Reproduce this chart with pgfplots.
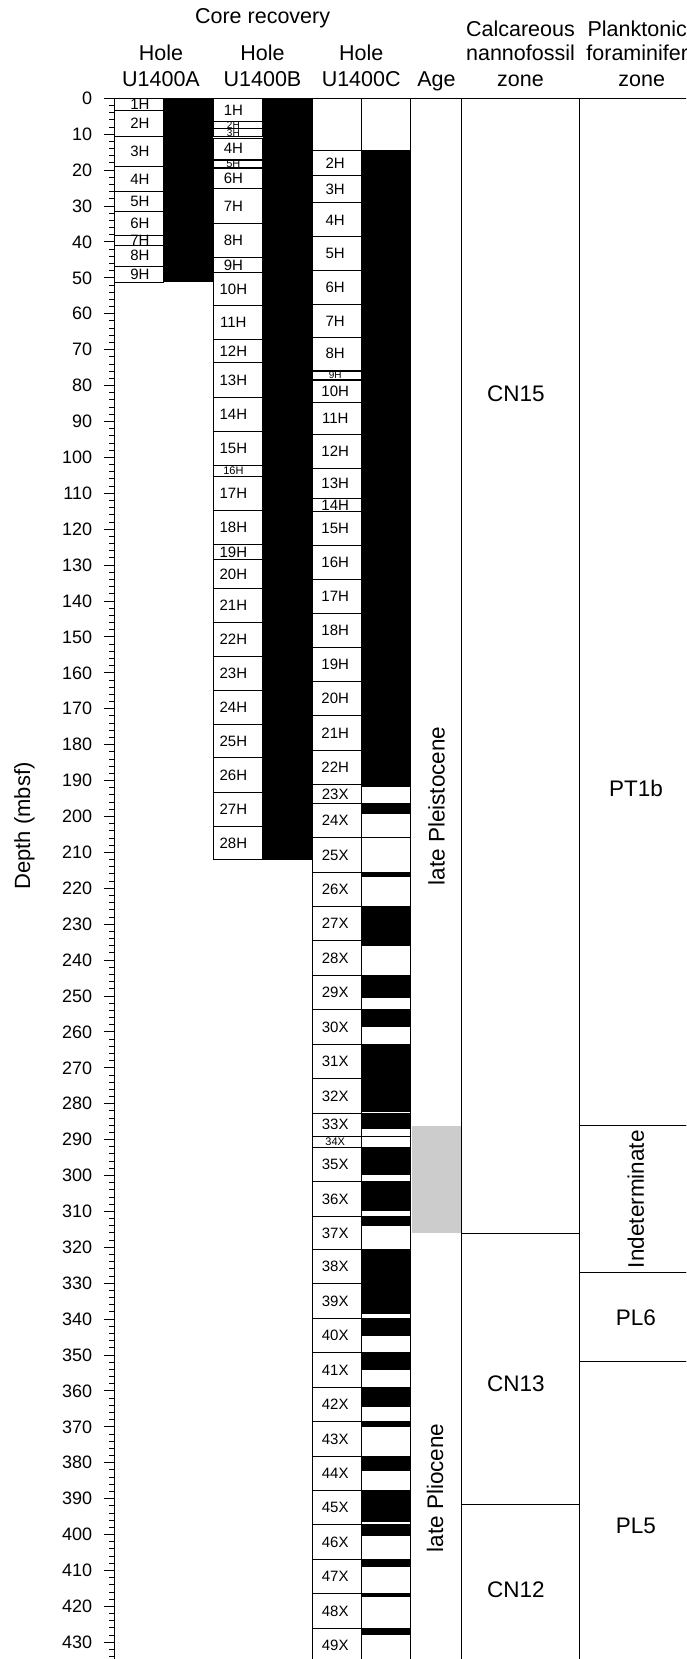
\documentclass[border=0pt]{standalone}
\usepackage{fontspec}
\setmainfont{Liberation Sans}
\usepackage{pgfplots}
\usepackage{pgfplotstable}
\pgfplotsset{compat=1.18}

% rectangle mark: origin at (x, top), width w (axis units), length bot-top (m)
\pgfdeclareplotmark{zbox}{%
  \pgfmathsetmacro\zbhw{\zboxw*12.3625}%
  \pgfmathsetmacro\zbh{-\zboxl*1.79535}%
  \pgfpathrectanglecorners{\pgfqpoint{-\zbhw pt}{0pt}}{\pgfqpoint{\zbhw pt}{\zbh pt}}%
  \pgfusepathqfillstroke}
\pgfdeclareplotmark{zfill}{%
  \pgfmathsetmacro\zbhw{\zboxw*12.3625}%
  \pgfmathsetmacro\zbh{-\zboxl*1.79535}%
  \pgfpathrectanglecorners{\pgfqpoint{-\zbhw pt}{0pt}}{\pgfqpoint{\zbhw pt}{\zbh pt}}%
  \pgfusepathqfill}
\pgfdeclareplotmark{zlabel}{%
  \pgftext[rotate=\zrot]{\fontsize{\zfs}{\zfs}\selectfont\pgfplotspointmeta}}

% Hole U1400A cores
\pgfplotstableread{
x top bot w
0.5 0 3.3 1
0.5 3.3 10.5 1
0.5 10.5 19.0 1
0.5 19.0 26.0 1
0.5 26.0 31.4 1
0.5 31.4 38.1 1
0.5 38.1 41.0 1
0.5 41.0 46.7 1
0.5 46.7 51.2 1
}\coresA

% Hole U1400B cores
\pgfplotstableread{
x top bot w
2.5 0 6.5 1
2.5 6.5 8.5 1
2.5 8.5 10.7 1
2.5 11.2 16.9 1
2.5 17.3 19.2 1
2.5 19.6 25.2 1
2.5 25.2 34.9 1
2.5 34.9 44.2 1
2.5 44.4 48.4 1
2.5 48.6 57.7 1
2.5 57.7 67.2 1
2.5 67.2 73.7 1
2.5 73.7 83.2 1
2.5 83.2 92.8 1
2.5 92.8 102.3 1
2.5 102.3 105.3 1
2.5 105.3 114.9 1
2.5 114.9 124.3 1
2.5 124.3 128.5 1
2.5 128.5 136.4 1
2.5 136.4 145.9 1
2.5 145.9 155.4 1
2.5 155.4 164.9 1
2.5 164.9 174.4 1
2.5 174.4 183.7 1
2.5 183.7 193.3 1
2.5 193.3 202.8 1
2.5 202.8 212.1 1
}\coresB

% Hole U1400C cores
\pgfplotstableread{
x top bot w
4.5 0 14.6 1
4.5 14.6 21.5 1
4.5 21.5 29.1 1
4.5 29.1 38.6 1
4.5 38.6 48.0 1
4.5 48.0 57.5 1
4.5 57.5 66.5 1
4.5 66.5 75.8 1
4.5 76.0 78.4 1
4.5 78.5 84.6 1
4.5 84.6 93.6 1
4.5 93.6 103.1 1
4.5 103.1 111.5 1
4.5 111.5 115.0 1
4.5 115.0 124.4 1
4.5 124.4 133.9 1
4.5 133.9 143.5 1
4.5 143.5 153.0 1
4.5 153.0 162.4 1
4.5 162.4 171.9 1
4.5 171.9 181.5 1
4.5 181.5 191.1 1
4.5 191.1 196.3 1
4.5 196.3 205.9 1
4.5 205.9 215.5 1
4.5 215.5 225.0 1
4.5 225.0 234.6 1
4.5 234.6 244.2 1
4.5 244.2 253.8 1
4.5 253.8 263.4 1
4.5 263.4 273.1 1
4.5 273.1 282.6 1
4.5 282.6 289.1 1
4.5 289.1 292.1 1
4.5 292.1 301.7 1
4.5 301.7 311.4 1
4.5 311.4 320.6 1
4.5 320.6 330.2 1
4.5 330.2 339.8 1
4.5 339.8 349.3 1
4.5 349.3 359.0 1
4.5 359.0 368.6 1
4.5 368.6 378.2 1
4.5 378.2 387.8 1
4.5 387.8 397.3 1
4.5 397.3 406.9 1
4.5 406.9 416.5 1
4.5 416.5 426.1 1
4.5 426.1 435.7 1
}\coresC

% Recovered intervals (black)
\pgfplotstableread{
x top bot w
1.5 0 51.2 1
3.5 0 212.1 1
5.5 14.6 191.7 1
5.5 196.3 199.3 1
5.5 215.5 216.8 1
5.5 225.0 236.0 1
5.5 244.2 250.5 1
5.5 253.8 258.5 1
5.5 263.4 282.2 1
5.5 282.6 287.0 1
5.5 292.1 299.9 1
5.5 301.7 309.9 1
5.5 311.4 314.0 1
5.5 320.6 338.6 1
5.5 339.8 344.6 1
5.5 349.3 354.2 1
5.5 359.0 364.4 1
5.5 368.6 370.0 1
5.5 378.2 382.4 1
5.5 387.8 396.6 1
5.5 397.3 400.3 1
5.5 406.9 409.1 1
5.5 416.5 417.4 1
5.5 426.1 428.0 1
}\recovery

% Age and zone intervals
\pgfplotstableread{
x top bot w
6.5125 0 445 1.025
8.214 0 316.1 2.378
8.214 316.1 391.6 2.378
8.214 391.6 445 2.378
10.664 0 286.2 2.522
10.664 286.2 327.0 2.522
10.664 327.0 351.7 2.522
10.664 351.7 445 2.522
}\zones

\pgfplotstableread{
x top bot w
6.5125 286.2 316.1 1.0
}\agegray

\pgfplotstableread[col sep=comma]{
x,y,lab,fs,rot
0.52,1.6,1H,7.5,0
0.52,6.9,2H,7.5,0
0.52,14.75,3H,7.5,0
0.52,22.5,4H,7.5,0
0.52,28.7,5H,7.5,0
0.52,34.75,6H,7.5,0
0.52,39.55,7H,7.5,0
0.52,43.85,8H,7.5,0
0.52,48.95,9H,7.5,0
2.41,3.4,1H,7.5,0
2.41,7.5,2H,5,0
2.41,9.6,3H,5,0
2.41,14.05,4H,7.5,0
2.41,18.25,5H,5.5,0
2.41,22.4,6H,7.5,0
2.41,30.05,7H,7.5,0
2.41,39.55,8H,7.5,0
2.41,46.4,9H,7.5,0
2.41,53.15,10H,7.5,0
2.41,62.45,11H,7.5,0
2.41,70.45,12H,7.5,0
2.41,78.45,13H,7.5,0
2.41,88.0,14H,7.5,0
2.41,97.55,15H,7.5,0
2.41,103.8,16H,5.5,0
2.41,110.1,17H,7.5,0
2.41,119.6,18H,7.5,0
2.41,126.4,19H,7.5,0
2.41,132.45,20H,7.5,0
2.41,141.15,21H,7.5,0
2.41,150.65,22H,7.5,0
2.41,160.15,23H,7.5,0
2.41,169.65,24H,7.5,0
2.41,179.05,25H,7.5,0
2.41,188.5,26H,7.5,0
2.41,198.05,27H,7.5,0
2.41,207.45,28H,7.5,0
4.47,18.05,2H,7.5,0
4.47,25.3,3H,7.5,0
4.47,33.85,4H,7.5,0
4.47,43.3,5H,7.5,0
4.47,52.75,6H,7.5,0
4.47,62.0,7H,7.5,0
4.47,71.15,8H,7.5,0
4.47,77.2,9H,5,0
4.47,81.55,10H,7.5,0
4.47,89.1,11H,7.5,0
4.47,98.35,12H,7.5,0
4.47,107.3,13H,7.5,0
4.47,113.25,14H,7.5,0
4.47,119.7,15H,7.5,0
4.47,129.15,16H,7.5,0
4.47,138.7,17H,7.5,0
4.47,148.25,18H,7.5,0
4.47,157.7,19H,7.5,0
4.47,167.15,20H,7.5,0
4.47,176.7,21H,7.5,0
4.47,186.3,22H,7.5,0
4.47,193.7,23X,7.5,0
4.47,201.1,24X,7.5,0
4.47,210.7,25X,7.5,0
4.47,220.25,26X,7.5,0
4.47,229.8,27X,7.5,0
4.47,239.4,28X,7.5,0
4.47,249.0,29X,7.5,0
4.47,258.6,30X,7.5,0
4.47,268.25,31X,7.5,0
4.47,277.85,32X,7.5,0
4.47,285.85,33X,7.5,0
4.47,290.6,34X,5.5,0
4.47,296.9,35X,7.5,0
4.47,306.55,36X,7.5,0
4.47,316.0,37X,7.5,0
4.47,325.4,38X,7.5,0
4.47,335.0,39X,7.5,0
4.47,344.55,40X,7.5,0
4.47,354.15,41X,7.5,0
4.47,363.8,42X,7.5,0
4.47,373.4,43X,7.5,0
4.47,383.0,44X,7.5,0
4.47,392.55,45X,7.5,0
4.47,402.1,46X,7.5,0
4.47,411.7,47X,7.5,0
4.47,421.3,48X,7.5,0
4.47,430.9,49X,7.5,0
}\corelabels

\pgfplotstableread[col sep=comma]{
x,y,lab,fs,rot
8.123,82.3,CN15,11.25,0
8.123,357.9,CN13,11.25,0
8.123,415.4,CN12,11.25,0
10.55,192.3,PT1b,11.25,0
10.55,339.5,PL6,11.25,0
10.55,397.6,PL5,11.25,0
10.55,306.6,Indeterminate,11.25,90
6.52,197.1,late Pleistocene,11.25,90
6.49,387.0,late Pliocene,11.25,90
}\zonelabels

\pgfplotsset{
  zboxplot/.style={scatter, only marks, mark=zbox, point meta=y,
    scatter/use mapped color={draw=black, fill=white, line width=0.5pt},
    visualization depends on={\thisrow{w} \as \zboxw},
    visualization depends on={\thisrow{bot}-\thisrow{top} \as \zboxl}},
  zfillplot/.style={scatter, only marks, mark=zfill, point meta=y,
    scatter/use mapped color={draw=#1, fill=#1},
    visualization depends on={\thisrow{w} \as \zboxw},
    visualization depends on={\thisrow{bot}-\thisrow{top} \as \zboxl}},
  zlabelplot/.style={scatter, only marks, mark=zlabel,
    point meta=explicit symbolic,
    scatter/@pre marker code/.code={},
    scatter/@post marker code/.code={},
    visualization depends on={\thisrow{fs} \as \zfs},
    visualization depends on={\thisrow{rot} \as \zrot}},
}

\begin{document}
\begin{tikzpicture}
\path (0,0) rectangle (343pt,-829.5pt);
\begin{pgfinterruptboundingbox}
\begin{scope}
\clip (0,0) rectangle (343pt,-829.5pt);
\begin{axis}[
  at={(57.1pt,-49.15pt)}, anchor=north west,
  x=24.725pt, y=1.79535pt, y dir=reverse,
  xmin=0, xmax=11.561, ymin=0, ymax=434.66,
  clip=false,
  axis x line=none, axis y line*=left,
  axis line style={black, line width=0.5pt, -},
  xtick=\empty,
  ytick={0,10,...,440}, minor y tick num=4,
  tick align=outside, major tick length=5pt, minor tick length=2.5pt,
  tick style={black, line width=0.5pt},
  yticklabel style={font=\fontsize{9}{10}\selectfont, xshift=-2.5pt},
  /pgf/number format/assume math mode=true,
  point meta min=0, point meta max=500,
]
\addplot[zboxplot] table[x=x, y=top] {\zones};
\addplot[zfillplot=black!20] table[x=x, y=top] {\agegray};
\addplot[zboxplot] table[x=x, y=top] {\coresA};
\addplot[zboxplot] table[x=x, y=top] {\coresB};
\addplot[zboxplot] table[x=x, y=top] {\coresC};
\addplot[zboxplot] table[x expr=\thisrow{x}+1, y=top] {\coresC};
\addplot[zfillplot=black] table[x=x, y=top] {\recovery};
\addplot[zlabelplot] table[x=x, y=y, meta=lab] {\corelabels};
\addplot[zlabelplot] table[x=x, y=y, meta=lab] {\zonelabels};
\end{axis}
\node[rotate=90, font=\fontsize{11}{12}\selectfont] at (12.25pt,-413pt) {Depth (mbsf)};
\begin{scope}[every node/.style={anchor=base, inner sep=0pt, font=\fontsize{10.75}{12}\selectfont}]
\node at (131.3pt,-11.9pt) {Core recovery};
\node at (260.25pt,-18.3pt) {Calcareous};
\node at (318.6pt,-18.3pt) {Planktonic};
\node at (80.5pt,-30.5pt) {Hole};
\node at (131.25pt,-30.5pt) {Hole};
\node at (180.6pt,-30.5pt) {Hole};
\node at (260.25pt,-30.5pt) {nannofossil};
\node at (318.6pt,-30.5pt) {foraminifer};
\node at (80.5pt,-43.2pt) {U1400A};
\node at (131.25pt,-43.2pt) {U1400B};
\node at (180.6pt,-43.2pt) {U1400C};
\node at (218.2pt,-43.2pt) {Age};
\node at (260.25pt,-43.2pt) {zone};
\node at (320.85pt,-43.2pt) {zone};
\end{scope}
\end{scope}
\end{pgfinterruptboundingbox}
\end{tikzpicture}
\end{document}
